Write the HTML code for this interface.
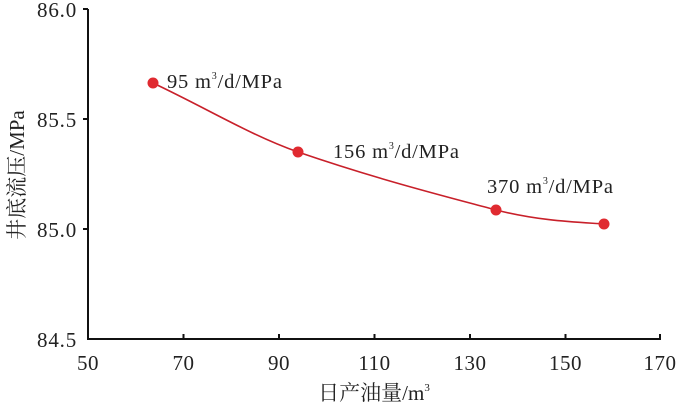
<!DOCTYPE html>
<html><head><meta charset="utf-8"><style>
html,body{margin:0;padding:0;background:#fff;}
svg{display:block;}
text{font-family:"Liberation Serif","Noto Serif CJK SC",serif;fill:#222;}
</style></head><body>
<svg width="700" height="408" viewBox="0 0 700 408">
<g stroke="#111" stroke-width="2" fill="none">
<line x1="88" y1="9" x2="88" y2="340"/>
<line x1="87" y1="339" x2="661" y2="339"/>
<line x1="83" y1="9" x2="88" y2="9"/>
<line x1="83" y1="119" x2="88" y2="119"/>
<line x1="83" y1="229" x2="88" y2="229"/>
<line x1="183.5" y1="334" x2="183.5" y2="339"/>
<line x1="279" y1="334" x2="279" y2="339"/>
<line x1="374.5" y1="334" x2="374.5" y2="339"/>
<line x1="470" y1="334" x2="470" y2="339"/>
<line x1="565.5" y1="334" x2="565.5" y2="339"/>
<line x1="660" y1="334" x2="660" y2="339"/>
</g>
<g font-size="21" text-anchor="end" letter-spacing="0.8">
<text x="77" y="17">86.0</text>
<text x="77" y="127">85.5</text>
<text x="77" y="237">85.0</text>
<text x="77" y="347">84.5</text>
</g>
<g font-size="21" text-anchor="middle" letter-spacing="0.5">
<text x="88" y="370">50</text>
<text x="183.5" y="370">70</text>
<text x="279" y="370">90</text>
<text x="374.5" y="370">110</text>
<text x="470" y="370">130</text>
<text x="565.5" y="370">150</text>
<text x="660" y="370">170</text>
</g>
<text x="374" y="400" font-size="21" text-anchor="middle">日产油量/m<tspan font-size="11" dy="-9">3</tspan></text>
<text transform="translate(24,175) rotate(-90)" font-size="21" text-anchor="middle">井底流压/MPa</text>
<path d="M153,83 C210,110 250,135 298,152 C380,180 440,195 496,210 C540,221 575,222 604,224" stroke="#c8202a" stroke-width="1.6" fill="none"/>
<g fill="#e02a30">
<circle cx="153" cy="83" r="5.5"/>
<circle cx="298" cy="152" r="5.5"/>
<circle cx="496" cy="210" r="5.5"/>
<circle cx="604" cy="224" r="5.5"/>
</g>
<g font-size="20.5" letter-spacing="0.8">
<text x="167" y="88">95 m<tspan font-size="10" dy="-9">3</tspan><tspan dy="9">/d/MPa</tspan></text>
<text x="333" y="158">156 m<tspan font-size="10" dy="-9">3</tspan><tspan dy="9">/d/MPa</tspan></text>
<text x="487" y="193">370 m<tspan font-size="10" dy="-9">3</tspan><tspan dy="9">/d/MPa</tspan></text>
</g>
</svg>
</body></html>
